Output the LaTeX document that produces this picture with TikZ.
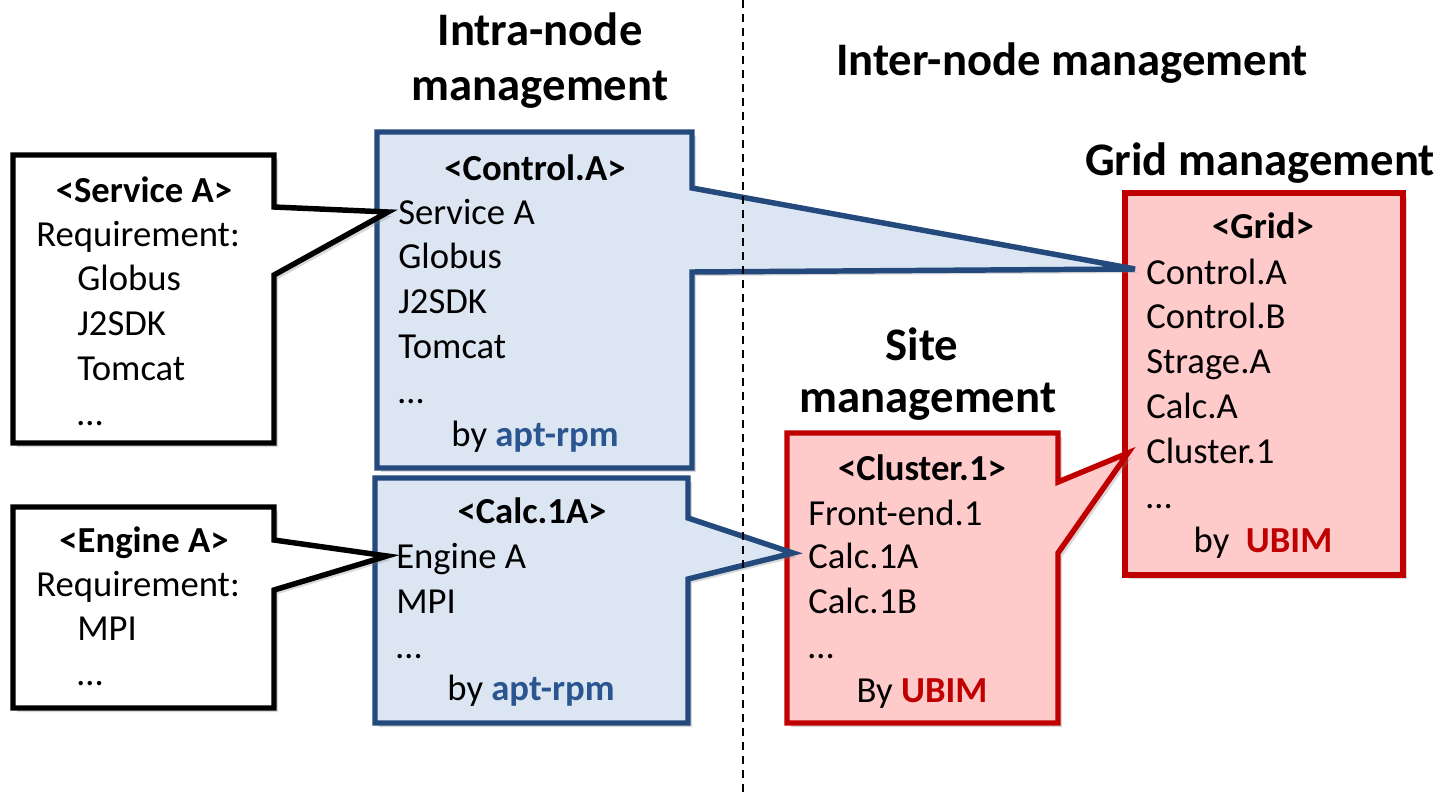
\documentclass[tikz,border=0pt]{standalone}
\usepackage{fontspec}
\setmainfont{Carlito}
\usetikzlibrary{shadows}
\definecolor{bline}{HTML}{24497D}
\definecolor{bfill}{HTML}{DCE6F2}
\definecolor{rline}{HTML}{C00000}
\definecolor{rfill}{HTML}{FFCACA}
\definecolor{apt}{HTML}{2A5590}
\begin{document}
\begin{tikzpicture}[x=0.75pt,y=-0.75pt,
  shadowed/.style={drop shadow={opacity=0.3,shadow xshift=3pt,shadow yshift=-3pt}},
  blackbox/.style={draw=black,line width=4.1pt,fill=white,shadowed},
  bluebox/.style={draw=bline,line width=4.1pt,fill=bfill,shadowed},
  redbox/.style={draw=rline,line width=4.1pt,fill=rfill,shadowed},
  txt/.style={inner sep=0pt,anchor=base west,font=\fontsize{27.5}{33}\selectfont},
  ctxt/.style={inner sep=0pt,anchor=base,font=\fontsize{27.5}{33}\selectfont},
  head/.style={inner sep=0pt,anchor=base,font=\fontsize{27.5}{33}\selectfont\bfseries},
  title/.style={inner sep=0pt,anchor=base,font=\fontsize{35}{42}\selectfont\bfseries},
  divider/.style={line width=1.5pt,dash pattern=on 6pt off 4.5pt}]
\useasboundingbox (0,0) rectangle (1447,793);

% tips of the callouts
\coordinate (gridtip) at (1128,453);
\coordinate (ctltip) at (1135,269);
\coordinate (calctip) at (793,553);
\coordinate (srvtip) at (388,212);
\coordinate (engtip) at (387,556);

% Grid box
\path[redbox] (1125,193) rectangle (1403,575);
% Cluster box
\path[redbox] (787,433) -- (1058,433) -- (1058,482) -- (gridtip) -- (1058,553) -- (1058,723) -- (787,723) -- cycle;
% Control.A box
\path[bluebox] (377,132) -- (692,132) -- (692,188) -- (ctltip) -- (692,272) -- (692,468) -- (377,468) -- cycle;
% Calc.1A box
\path[bluebox] (375,478) -- (688,478) -- (688,518) -- (calctip) -- (688,579) -- (688,723) -- (375,723) -- cycle;
% Service A box
\path[blackbox] (13,155) -- (274,155) -- (274,207) -- (srvtip) -- (274,275) -- (274,443) -- (13,443) -- cycle;
% Engine A box
\path[blackbox] (13,507) -- (274,507) -- (274,540) -- (engtip) -- (274,590) -- (274,708) -- (13,708) -- cycle;

% divider
\coordinate (divtop) at (743,0);
\coordinate (divbot) at (743,793);
\draw[divider] (divtop) -- (divbot);

% titles
\node[title] (t1) at (540,45) {Intra-node};
\node[title] (t2) at (540,100) {management};
\node[title] (t3) at (1072,75) {Inter-node management};
\node[title] (t4) at (1260,175) {Grid management};
\node[title] (t5) at (922,360) {Site};
\node[title] (t6) at (928,412) {management};

% Service A
\node[head] (sh) at (144,202) {<Service A>};
\node[txt] (s1) at (36,246) {Requirement:};
\node[txt] (s2) at (77,290) {Globus};
\node[txt] (s3) at (77,335) {J2SDK};
\node[txt] (s4) at (77,380) {Tomcat};
\node[txt] (s5) at (77,425) {…};

% Engine A
\node[head] (eh) at (144,552) {<Engine A>};
\node[txt] (e1) at (36,596) {Requirement:};
\node[txt] (e2) at (77,640) {MPI};
\node[txt] (e3) at (77,685) {…};

% Control.A
\node[head] (ch) at (535,180) {<Control.A>};
\node[txt] (c1) at (398,224) {Service A};
\node[txt] (c2) at (398,268) {Globus};
\node[txt] (c3) at (398,313) {J2SDK};
\node[txt] (c4) at (398,358) {Tomcat};
\node[txt] (c5) at (398,403) {…};
\node[ctxt] (c6) at (535,446) {by \textcolor{apt}{\bfseries apt-rpm}};

% Calc.1A
\node[head] (kh) at (532,523) {<Calc.1A>};
\node[txt] (k1) at (396,568) {Engine A};
\node[txt] (k2) at (396,613) {MPI};
\node[txt] (k3) at (396,658) {…};
\node[ctxt] (k4) at (531,700) {by \textcolor{apt}{\bfseries apt-rpm}};

% Cluster.1
\node[head] (uh) at (922,480) {<Cluster.1>};
\node[txt] (u1) at (808,525) {Front-end.1};
\node[txt] (u2) at (808,568) {Calc.1A};
\node[txt] (u3) at (808,613) {Calc.1B};
\node[txt] (u4) at (808,658) {…};
\node[ctxt] (u5) at (922,702) {By \textcolor{rline}{\bfseries UBIM}};

% Grid
\node[head] (gh) at (1263,238) {<Grid>};
\node[txt] (g1) at (1146,284) {Control.A};
\node[txt] (g2) at (1146,328) {Control.B};
\node[txt] (g3) at (1146,373) {Strage.A};
\node[txt] (g4) at (1146,418) {Calc.A};
\node[txt] (g5) at (1146,463) {Cluster.1};
\node[txt] (g6) at (1146,508) {…};
\node[ctxt] (g7) at (1263,552) {by\ \ \textcolor{rline}{\bfseries UBIM}};
\end{tikzpicture}
\end{document}
